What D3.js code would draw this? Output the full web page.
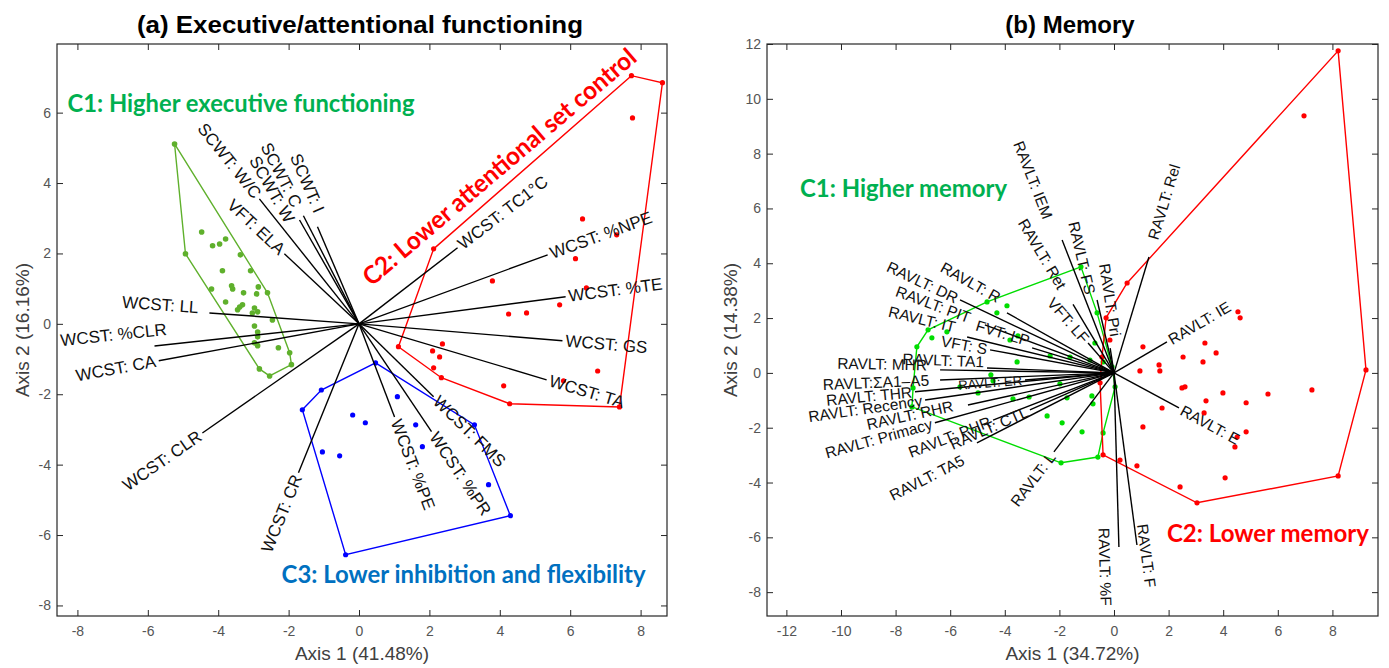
<!DOCTYPE html>
<html><head><meta charset="utf-8">
<script src="https://cdn.jsdelivr.net/npm/d3@7"></script>
<style>body{margin:0;background:#fff}svg{display:block}</style>
</head><body><svg id="c" width="1389" height="668"></svg>
<script>
// ---------- DATA ----------
const aXTicks=[-8,-6,-4,-2,0,2,4,6,8];
const aYTicks=[-8,-6,-4,-2,0,2,4,6];
const bXTicks=[-12,-10,-8,-6,-4,-2,0,2,4,6,8];
const bYTicks=[-8,-6,-4,-2,0,2,4,6,8,10,12];

const aVarNames=["SCWT: W/C","SCWT: W","SCWT: C","SCWT: I","VFT: ELA","WCST: LL","WCST: %CLR","WCST: CA","WCST: CLR","WCST: CR","WCST: %PE","WCST: %PR","WCST: FMS","WCST: TA","WCST: GS","WCST: %TE","WCST: %NPE","WCST: TC1°C"];
const aVarX=[-2.83,-1.69,-1.58,-1.18,-2.12,-4.25,-5.81,-5.69,-4.45,-1.72,1.01,2.06,2.12,5.33,5.78,5.87,5.36,2.80];
const aVarY=[3.55,2.95,3.07,2.76,1.99,0.31,-0.63,-1.05,-3.10,-4.23,-2.65,-3.06,-2.07,-1.59,-0.48,0.77,1.96,2.16];

const aC1Hull=[[-5.24,5.11],[-2.60,0.88],[-1.97,-0.82],[-1.92,-1.16],[-2.54,-1.48],[-2.83,-1.28],[-4.93,1.99]];
const aC1Points=[[-4.47,2.61],[-4.16,2.22],[-3.96,2.27],[-3.79,2.41],[-3.37,1.96],[-3.88,1.51],[-3.08,1.51],[-3.62,1.08],[-3.59,0.99],[-4.19,0.99],[-3.28,0.88],[-2.86,1.05],[-2.91,0.85],[-3.79,0.62],[-3.39,0.48],[-3.31,0.54],[-3.45,0.40],[-2.97,0.45],[-3.03,0.31],[-2.88,0.34],[-2.46,0.11],[-2.97,-0.06],[-2.88,-0.23],[-2.88,-0.37],[-2.97,-0.54],[-2.88,-0.62],[-2.29,-0.68]];
const aC2Hull=[[2.12,2.13],[7.74,7.05],[8.62,6.85],[7.40,-2.36],[4.28,-2.27],[2.34,-1.53],[1.12,-0.65]];
const aC2Points=[[7.77,5.85],[6.35,2.98],[7.32,2.53],[6.15,1.85],[3.79,1.22],[6.46,1.02],[5.70,0.54],[4.25,0.28],[4.76,0.31],[2.09,-0.77],[2.37,-0.57],[2.29,-0.94],[2.12,-1.25],[4.11,-1.76],[5.81,-1.62],[6.78,-1.34]];
const aC3Hull=[[0.47,-1.11],[3.28,-2.87],[4.30,-5.45],[-0.38,-6.56],[-1.61,-2.44],[-1.07,-1.88]];
const aC3Points=[[1.09,-2.07],[-0.18,-2.59],[0.18,-2.81],[1.61,-2.87],[1.80,-3.49],[3.68,-4.57],[-1.04,-3.64],[-0.55,-3.75]];

const bVarNames=["RAVLT: IEM","RAVLT: Ret","RAVLT: FS","RAVLT: Pri","RAVLT: Rel","RAVLT: IE","RAVLT: E","RAVLT: F","RAVLT: %F","RAVLT: L","RAVLT: TA5","RAVLT: CTL","RAVLT: PHR","RAVLT: Primacy","RAVLT: RHR","RAVLT: Recency","RAVLT: THR","RAVLT:ΣA1\u2013A5","RAVLT: MHR","RAVLT: ER","RAVLT: TA1","VFT: S","RAVLT: IT","FVT: LP","VFT: LF","RAVLT: PIT","RAVLT: DR","RAVLT: R"];
const bVarX=[-1.90,-1.50,-0.62,-0.14,1.28,1.94,2.38,0.84,0.18,-2.20,-5.02,-3.08,-4.43,-6.56,-5.35,-6.92,-7.29,-6.37,-6.37,-3.26,-4.65,-4.54,-5.38,-3.00,-0.95,-4.73,-5.64,-3.92];
const bVarY=[4.85,2.50,2.66,0.90,4.23,1.13,-1.28,-6.28,-6.35,-2.88,-2.55,-1.35,-1.72,-1.82,-1.17,-0.99,-0.69,-0.26,0.11,-0.26,0.18,0.84,1.31,0.91,1.09,1.75,2.66,2.19];

const bC1Hull=[[-1.21,3.87],[-4.65,2.59],[-6.81,1.57],[-7.22,0.95],[-7.36,-0.55],[-7.40,-1.24],[-1.94,-3.28],[-0.59,-3.07],[-0.40,-2.19],[0.04,-0.51],[-0.07,0.22],[-0.62,2.19]];
const bC1Points=[[-3.92,2.45],[-4.29,2.19],[-6.12,1.50],[-6.67,1.28],[-3.81,1.20],[-3.52,1.35],[-3.55,0.40],[-2.34,0.62],[-1.61,0.58],[-0.70,1.09],[-4.51,-0.07],[-4.43,-0.29],[-5.64,-0.51],[-4.98,-0.73],[-3.70,-0.95],[-3.11,-0.88],[-1.72,-0.91],[-0.81,-0.84],[-0.77,-1.13],[-2.45,-1.57],[-1.90,-1.82],[-1.17,-2.15],[-1.98,-0.40],[-0.40,0.40],[-0.88,0.47]];
const bC2Hull=[[0.48,3.28],[8.21,11.75],[9.23,0.11],[8.21,-3.76],[3.04,-4.74],[-0.40,-2.99],[-0.51,-0.36],[-0.44,0.58],[-0.29,2.01]];
const bC2Points=[[6.96,9.38],[4.54,2.23],[4.62,2.01],[1.06,0.95],[3.33,1.09],[3.74,0.73],[2.53,0.58],[3.26,0.40],[1.65,0.29],[1.68,0.07],[0.95,0.07],[2.49,-0.55],[2.60,-0.51],[3.99,-0.73],[3.37,-1.02],[4.84,-1.09],[5.64,-0.77],[7.25,-0.62],[1.76,-1.28],[3.30,-1.46],[1.06,-1.97],[4.84,-2.15],[4.51,-2.34],[4.43,-2.70],[0.22,-3.18],[0.84,-3.39],[2.42,-4.16],[4.07,-3.83],[-0.15,1.20]];

// ---------- LAYOUT / STYLE ----------
const svg=d3.select("#c");
const FONT="'Liberation Sans', Arial, sans-serif";
// pixel nudges for crowded labels (layout only)
const labelNudge={
  "WCST: %CLR":[15,-17],"WCST: LL":[-8,-5],
  "SCWT: I":[3,-12],"SCWT: C":[-5,-7],"SCWT: W":[-8,4],
  "RAVLT: %F":[-15,-22],"RAVLT: F":[5,-24],
  "RAVLT: Pri":[6,-9],"RAVLT: FS":[-6,-3],"RAVLT: Ret":[-9,-14],"RAVLT: IEM":[-13,-19],"RAVLT: Rel":[3,-15],
  "RAVLT: R":[-5,-13],"RAVLT: PIT":[-12,-6],"RAVLT: IT":[-9,-9],"FVT: LP":[0,-6],"RAVLT: TA1":[0,-6],
  "RAVLT: MHR":[-10,-5],"RAVLT:ΣA1\u2013A5":[-8,0],"RAVLT: RHR":[-12,0],"RAVLT: TA5":[-11,15]
};
const smallLabels={"RAVLT: ER":13};

function panel(cfg){
  const g=svg.append("g");
  const x=d3.scaleLinear().domain(cfg.xDom).range([cfg.left,cfg.right]);
  const y=d3.scaleLinear().domain(cfg.yDom).range([cfg.bottom,cfg.top]);
  const fmt=d=>String(d);
  const styleAxis=sel=>{
    sel.select(".domain").remove();
    sel.selectAll(".tick line").attr("stroke","#262626");
    sel.selectAll(".tick text").attr("font-family",FONT).attr("font-size",14).attr("fill","#555");
  };
  g.append("g").attr("transform",`translate(0,${cfg.bottom})`)
    .call(d3.axisBottom(x).tickValues(cfg.xTicks).tickSizeInner(-6).tickSizeOuter(0).tickPadding(10).tickFormat(fmt)).call(styleAxis);
  g.append("g").attr("transform",`translate(0,${cfg.top})`)
    .call(d3.axisTop(x).tickValues(cfg.xTicks).tickSizeInner(-6).tickSizeOuter(0).tickFormat("")).call(styleAxis);
  g.append("g").attr("transform",`translate(${cfg.left},0)`)
    .call(d3.axisLeft(y).tickValues(cfg.yTicks).tickSizeInner(-6).tickSizeOuter(0).tickPadding(6).tickFormat(fmt)).call(styleAxis);
  g.append("g").attr("transform",`translate(${cfg.right},0)`)
    .call(d3.axisRight(y).tickValues(cfg.yTicks).tickSizeInner(-6).tickSizeOuter(0).tickFormat("")).call(styleAxis);
  g.append("rect").attr("x",cfg.left).attr("y",cfg.top).attr("width",cfg.right-cfg.left).attr("height",cfg.bottom-cfg.top)
    .attr("fill","none").attr("stroke","#262626").attr("stroke-width",1.2);

  // clusters
  const line=d3.line().x(d=>x(d[0])).y(d=>y(d[1])).curve(d3.curveLinearClosed);
  cfg.clusters.forEach(c=>{
    g.append("path").datum(c.hull).attr("d",line).attr("fill","none").attr("stroke",c.color).attr("stroke-width",1.4);
    g.selectAll(null).data(c.hull.concat(c.points)).enter().append("circle")
      .attr("cx",d=>x(d[0])).attr("cy",d=>y(d[1])).attr("r",c.r).attr("fill",c.color);
  });

  // vectors
  const ox=x(0), oy=y(0);
  cfg.names.forEach((n,i)=>{
    const ex=x(cfg.vx[i]), ey=y(cfg.vy[i]);
    g.append("line").attr("x1",ox).attr("y1",oy).attr("x2",ex).attr("y2",ey)
      .attr("stroke","#000").attr("stroke-width",1.4);
  });
  cfg.names.forEach((n,i)=>{
    const ex=x(cfg.vx[i]), ey=y(cfg.vy[i]);
    const dx=ex-ox, dy=ey-oy, L=Math.hypot(dx,dy), ux=dx/L, uy=dy/L;
    const gap=3;
    let px=ex+ux*gap, py=ey+uy*gap;
    const nud=labelNudge[n]||[0,0];
    px+=nud[0]; py+=nud[1];
    let ang, anchor;
    if(dx<0){ang=Math.atan2(-dy,-dx)*180/Math.PI; anchor="end";}
    else {ang=Math.atan2(dy,dx)*180/Math.PI; anchor="start";}
    g.append("text").attr("transform",`translate(${px},${py}) rotate(${ang})`)
      .attr("text-anchor",anchor).attr("dominant-baseline","central")
      .attr("font-family",FONT).attr("font-size",smallLabels[n]||cfg.labelSize).attr("fill","#111").text(n);
  });

  // cluster annotations
  cfg.notes.forEach(t=>{
    g.append("text").attr("transform",`translate(${x(t.at[0])},${y(t.at[1])}) rotate(${t.rot||0})`)
      .attr("font-family","Lato, 'Open Sans', sans-serif").attr("font-weight","bold").attr("font-size",t.size)
      .attr("fill",t.color).attr("textLength",t.len).attr("lengthAdjust","spacingAndGlyphs").text(t.text);
  });

  // titles & axis labels
  const cx=(cfg.left+cfg.right)/2, cy=(cfg.top+cfg.bottom)/2;
  g.append("text").attr("x",cfg.titleX).attr("y",33).attr("text-anchor","middle")
    .attr("font-family",FONT).attr("font-weight","bold").attr("font-size",24).attr("fill","#000")
    .attr("textLength",cfg.titleLen||null).attr("lengthAdjust","spacingAndGlyphs").text(cfg.title);
  g.append("text").attr("x",cx).attr("y",660).attr("text-anchor","middle")
    .attr("font-family",FONT).attr("font-size",19).attr("fill","#404040").text(cfg.xLabel);
  g.append("text").attr("transform",`translate(${cfg.yLabelX},${cy}) rotate(-90)`).attr("text-anchor","middle")
    .attr("font-family",FONT).attr("font-size",19).attr("fill","#404040").text(cfg.yLabel);
}

panel({
  left:57,right:667,top:44,bottom:616,xDom:[-8.58,8.75],yDom:[-8.3,7.95],
  xTicks:aXTicks,yTicks:aYTicks,names:aVarNames,vx:aVarX,vy:aVarY,labelSize:17,
  clusters:[
    {hull:aC1Hull,points:aC1Points,color:"#5fb02c",r:2.8},
    {hull:aC2Hull,points:aC2Points,color:"#ff0000",r:2.6},
    {hull:aC3Hull,points:aC3Points,color:"#0000ff",r:2.6}],
  notes:[
    {text:"C1: Higher executive functioning",at:[-8.28,6.02],size:25,color:"#00b050",len:347},
    {text:"C2: Lower attentional set control",at:[0.36,1.05],size:25,color:"#ff0000",len:350,rot:-40.4},
    {text:"C3: Lower inhibition and flexibility",at:[-2.20,-7.36],size:25,color:"#0070c0",len:364}],
  title:"(a) Executive/attentional functioning",titleX:360,titleLen:446,
  xLabel:"Axis 1 (41.48%)",yLabel:"Axis 2 (16.16%)",yLabelX:29
});
panel({
  left:767,right:1378,top:44,bottom:616,xDom:[-12.71,9.67],yDom:[-8.87,12.0],
  xTicks:bXTicks,yTicks:bYTicks,names:bVarNames,vx:bVarX,vy:bVarY,labelSize:15.5,
  clusters:[
    {hull:bC1Hull,points:bC1Points,color:"#00dd00",r:2.6},
    {hull:bC2Hull,points:bC2Points,color:"#ff0000",r:2.6}],
  notes:[
    {text:"C1: Higher memory",at:[-11.50,6.42],size:25,color:"#00b050",len:207},
    {text:"C2: Lower memory",at:[1.94,-6.17],size:25,color:"#ff0000",len:202}],
  title:"(b) Memory",titleX:1070,titleLen:null,
  xLabel:"Axis 1 (34.72%)",yLabel:"Axis 2 (14.38%)",yLabelX:737
});
</script></body></html>
